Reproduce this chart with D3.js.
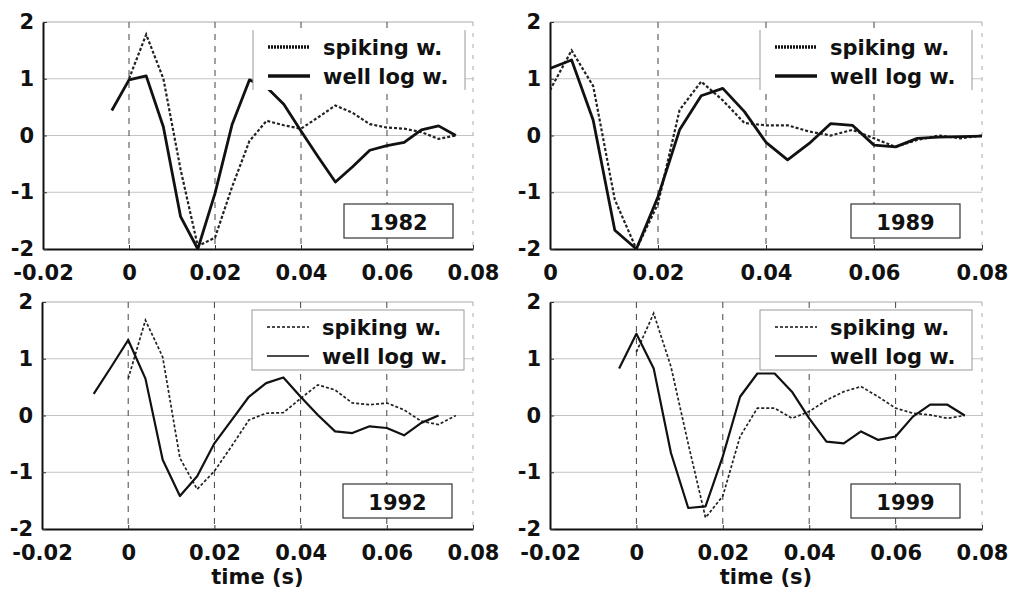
<!DOCTYPE html>
<html>
<head>
<meta charset="utf-8">
<script src="https://cdn.jsdelivr.net/npm/d3@7"></script>
<style>
  body { margin: 0; background: #fff; }
  svg text { font-family: "DejaVu Sans", sans-serif; font-weight: bold; font-size: 21px; fill: #111; }
</style>
</head>
<body>
<div id="chart"></div>
<script>
var width = 1011;
var height = 592;

// sample times (s)
var tW1982 = [-0.004, 0, 0.004, 0.008, 0.012, 0.016, 0.020, 0.024, 0.028, 0.032, 0.036, 0.040, 0.044, 0.048, 0.052, 0.056, 0.060, 0.064, 0.068, 0.072, 0.076];
var tS1982 = [0, 0.004, 0.008, 0.012, 0.016, 0.020, 0.024, 0.028, 0.032, 0.036, 0.040, 0.044, 0.048, 0.052, 0.056, 0.060, 0.064, 0.068, 0.072, 0.076];
var tW1989 = [0, 0.004, 0.008, 0.012, 0.016, 0.020, 0.024, 0.028, 0.032, 0.036, 0.040, 0.044, 0.048, 0.052, 0.056, 0.060, 0.064, 0.068, 0.072, 0.076, 0.080];
var tS1989 = tW1989;
var tW1992 = [-0.008, -0.004, 0, 0.004, 0.008, 0.012, 0.016, 0.020, 0.024, 0.028, 0.032, 0.036, 0.040, 0.044, 0.048, 0.052, 0.056, 0.060, 0.064, 0.068, 0.072];
var tS1992 = tS1982;
var tW1999 = tW1982;
var tS1999 = tS1982;

// wavelet amplitudes
var well1982 = [0.44, 0.98, 1.05, 0.15, -1.43, -2.0, -1.02, 0.2, 0.98, 0.85, 0.55, 0.08, -0.38, -0.82, -0.55, -0.26, -0.18, -0.12, 0.1, 0.17, 0.0];
var spike1982 = [1.0, 1.78, 1.0, -0.6, -1.95, -1.8, -0.9, -0.1, 0.26, 0.18, 0.12, 0.32, 0.53, 0.4, 0.2, 0.14, 0.12, 0.06, -0.06, 0.0];
var well1989 = [1.18, 1.33, 0.27, -1.67, -2.0, -1.08, 0.1, 0.7, 0.83, 0.42, -0.12, -0.43, -0.14, 0.21, 0.18, -0.17, -0.2, -0.05, -0.03, -0.02, -0.01];
var spike1989 = [0.8, 1.5, 0.87, -1.13, -2.0, -1.2, 0.45, 0.95, 0.62, 0.22, 0.18, 0.18, 0.07, 0.0, 0.1, -0.05, -0.2, -0.08, 0.0, -0.05, 0.0];
var well1992 = [0.38, 0.85, 1.33, 0.65, -0.78, -1.42, -1.07, -0.49, -0.08, 0.33, 0.57, 0.67, 0.33, 0.01, -0.28, -0.31, -0.19, -0.22, -0.35, -0.13, 0.0];
var spike1992 = [0.65, 1.68, 1.03, -0.75, -1.3, -0.98, -0.54, -0.08, 0.04, 0.05, 0.3, 0.54, 0.45, 0.22, 0.19, 0.22, 0.1, -0.1, -0.16, 0.0];
var well1999 = [0.83, 1.44, 0.83, -0.66, -1.63, -1.6, -0.72, 0.33, 0.74, 0.74, 0.42, -0.05, -0.46, -0.49, -0.28, -0.43, -0.37, -0.02, 0.19, 0.19, 0.0];
var spike1999 = [1.12, 1.8, 0.86, -0.5, -1.8, -1.42, -0.37, 0.13, 0.13, -0.05, 0.07, 0.27, 0.42, 0.51, 0.33, 0.13, 0.04, 0.01, -0.05, 0.0];

var xTicksWide = [-0.02, 0, 0.02, 0.04, 0.06, 0.08];
var xTicksNarrow = [0, 0.02, 0.04, 0.06, 0.08];
var yTicks = [-2, -1, 0, 1, 2];
var legendLabels = ['spiking w.', 'well log w.'];
var xLabel = 'time (s)';

var panels = [
    { year: '1982', left: 43, right: 473, top: 22, bottom: 249, xDomain: [-0.02, 0.08], xTicks: xTicksWide,
      tW: tW1982, w: well1982, tS: tS1982, s: spike1982, heavy: true, axisTitle: false },
    { year: '1989', left: 550, right: 982, top: 22, bottom: 249, xDomain: [0, 0.08], xTicks: xTicksNarrow,
      tW: tW1989, w: well1989, tS: tS1989, s: spike1989, heavy: true, axisTitle: false },
    { year: '1992', left: 42, right: 473, top: 302, bottom: 529, xDomain: [-0.02, 0.08], xTicks: xTicksWide,
      tW: tW1992, w: well1992, tS: tS1992, s: spike1992, heavy: false, axisTitle: true },
    { year: '1999', left: 550, right: 982, top: 302, bottom: 529, xDomain: [-0.02, 0.08], xTicks: xTicksWide,
      tW: tW1999, w: well1999, tS: tS1999, s: spike1999, heavy: false, axisTitle: true }
];

var fmt = d => d === 0 ? '0' : String(+d.toFixed(2));

const svg = d3.select('#chart')
    .append('svg')
    .attr('width', width)
    .attr('height', height);

panels.forEach((p, i) => {
    const x = d3.scaleLinear().domain(p.xDomain).range([p.left, p.right]);
    const y = d3.scaleLinear().domain([-2, 2]).range([p.bottom, p.top]);
    const g = svg.append('g');

    //网格
    g.append('g')
        .selectAll('line')
        .data(yTicks.filter(d => d > -2 && d < 2))
        .enter()
        .append('line')
        .attr('x1', p.left).attr('x2', p.right)
        .attr('y1', d => y(d)).attr('y2', d => y(d))
        .attr('stroke', '#c4c4c4')
        .attr('stroke-width', 1);

    g.append('line')
        .attr('x1', p.left).attr('x2', p.right)
        .attr('y1', p.top).attr('y2', p.top)
        .attr('stroke', '#aaa');

    g.append('line')
        .attr('x1', p.right).attr('x2', p.right)
        .attr('y1', p.top).attr('y2', p.bottom)
        .attr('stroke', '#aaa')
        .attr('stroke-dasharray', '4,7');

    g.append('g')
        .selectAll('line')
        .data(p.xTicks.filter(d => d > p.xDomain[0] && d < p.xDomain[1]))
        .enter()
        .append('line')
        .attr('x1', d => x(d)).attr('x2', d => x(d))
        .attr('y1', p.top).attr('y2', p.bottom)
        .attr('stroke', '#444')
        .attr('stroke-width', 1)
        .attr('stroke-dasharray', '6,6');

    //曲线
    const clipId = 'clip' + i;
    svg.append('clipPath').attr('id', clipId)
        .append('rect')
        .attr('x', p.left).attr('y', p.top - 1)
        .attr('width', p.right - p.left).attr('height', p.bottom - p.top + 2);

    const line = d3.line().x(d => x(d[0])).y(d => y(d[1]));
    const curves = g.append('g').attr('clip-path', 'url(#' + clipId + ')');

    curves.append('path')
        .datum(p.tS.map((t, k) => [t, p.s[k]]))
        .attr('d', line)
        .attr('fill', 'none')
        .attr('stroke', '#222')
        .attr('stroke-width', p.heavy ? 2.2 : 1.7)
        .attr('stroke-dasharray', '3,2');

    curves.append('path')
        .datum(p.tW.map((t, k) => [t, p.w[k]]))
        .attr('d', line)
        .attr('fill', 'none')
        .attr('stroke', '#111')
        .attr('stroke-width', p.heavy ? 2.8 : 2.2)
        .attr('stroke-linejoin', 'round');

    //坐标轴
    const xAxis = g.append('g')
        .attr('transform', 'translate(0,' + p.bottom + ')')
        .call(d3.axisBottom(x).tickValues(p.xTicks).tickFormat(fmt).tickSizeInner(-4).tickSizeOuter(0).tickPadding(16));
    const yAxis = g.append('g')
        .attr('transform', 'translate(' + p.left + ',0)')
        .call(d3.axisLeft(y).tickValues(yTicks).tickFormat(fmt).tickSizeInner(-4).tickSizeOuter(0).tickPadding(9));
    [xAxis, yAxis].forEach(a => {
        a.select('.domain').attr('stroke', '#111').attr('stroke-width', 2);
        a.selectAll('.tick line').attr('stroke', '#333');
        a.selectAll('text').attr('font-family', null).attr('font-size', null).attr('fill', null);
    });

    //图例
    const lx = p.left + 210, ly = p.top + 8, lw = 212, lh = 60;
    const leg = g.append('g');
    leg.append('rect')
        .attr('x', lx).attr('y', ly).attr('width', lw).attr('height', lh)
        .attr('fill', '#fff')
        .attr('stroke', p.heavy ? 'none' : '#999');
    if (p.heavy) {
        [lx, lx + lw].forEach(xx => {
            leg.append('line')
                .attr('x1', xx).attr('x2', xx).attr('y1', ly).attr('y2', ly + lh)
                .attr('stroke', '#999');
        });
    }
    legendLabels.forEach((lab, k) => {
        const yy = ly + 17 + k * 29;
        leg.append('line')
            .attr('x1', lx + 15).attr('x2', lx + 57)
            .attr('y1', yy).attr('y2', yy)
            .attr('stroke', '#111')
            .attr('stroke-width', p.heavy ? 3.5 : 1.6)
            .attr('stroke-dasharray', k === 0 ? (p.heavy ? '2,1' : '3,2') : null);
        leg.append('text')
            .attr('x', lx + 70).attr('y', yy + 8)
            .text(lab);
    });

    //年份
    const bx = p.left + 301, by = p.bottom - 45;
    g.append('rect')
        .attr('x', bx).attr('y', by).attr('width', 109).attr('height', 34)
        .attr('fill', '#fff')
        .attr('stroke', '#333')
        .attr('stroke-width', 1.2);
    g.append('text')
        .attr('x', bx + 54.5).attr('y', by + 26)
        .attr('text-anchor', 'middle')
        .text(p.year);

    if (p.axisTitle) {
        g.append('text')
            .attr('x', (p.left + p.right) / 2).attr('y', 584)
            .attr('text-anchor', 'middle')
            .text(xLabel);
    }
});
</script>
</body>
</html>
